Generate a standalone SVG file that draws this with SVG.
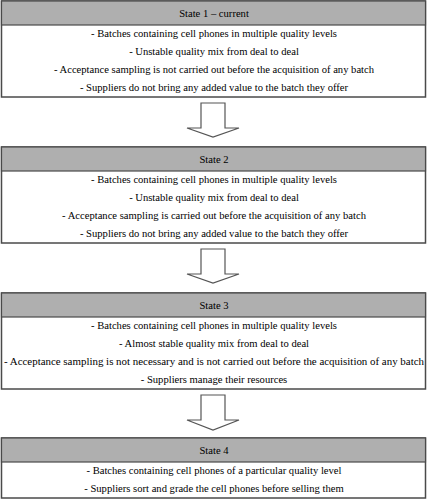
<svg xmlns="http://www.w3.org/2000/svg" width="428" height="500" viewBox="0 0 428 500">
<style>
.box{fill:#fff;stroke:#4a4a4a;stroke-width:1.5}
.hdr{fill:#afafaf;stroke:#4a4a4a;stroke-width:1.2}
.t{font-family:'Liberation Serif',serif;font-size:10.6px;fill:#000;text-anchor:middle}
.arr{fill:#fff;stroke:#555;stroke-width:1.2;stroke-linejoin:miter}
</style>
<rect width="428" height="500" fill="#fff"/>
<g id="state1">
<rect class="box" x="1.5" y="1" width="424" height="96"/>
<rect class="hdr" x="1.5" y="1" width="424" height="24"/>
<text class="t" x="214" y="17">State 1 – current</text>
<text class="t" x="214" y="37">- Batches containing cell phones in multiple quality levels</text>
<text class="t" x="214" y="55">- Unstable quality mix from deal to deal</text>
<text class="t" x="214" y="73">- Acceptance sampling is not carried out before the acquisition of any batch</text>
<text class="t" x="214" y="91">- Suppliers do not bring any added value to the batch they offer</text>
</g>
<g id="state2">
<rect class="box" x="1.5" y="147" width="424" height="96"/>
<rect class="hdr" x="1.5" y="147" width="424" height="24"/>
<text class="t" x="214" y="163">State 2</text>
<text class="t" x="214" y="183">- Batches containing cell phones in multiple quality levels</text>
<text class="t" x="214" y="201">- Unstable quality mix from deal to deal</text>
<text class="t" x="214" y="219">- Acceptance sampling is carried out before the acquisition of any batch</text>
<text class="t" x="214" y="237">- Suppliers do not bring any added value to the batch they offer</text>
</g>
<g id="state3">
<rect class="box" x="1.5" y="293" width="424" height="96"/>
<rect class="hdr" x="1.5" y="293" width="424" height="24"/>
<text class="t" x="214" y="309">State 3</text>
<text class="t" x="214" y="329">- Batches containing cell phones in multiple quality levels</text>
<text class="t" x="214" y="347">- Almost stable quality mix from deal to deal</text>
<text class="t" x="214" y="365" textLength="420" lengthAdjust="spacingAndGlyphs">- Acceptance sampling is not necessary and is not carried out before the acquisition of any batch</text>
<text class="t" x="214" y="383">- Suppliers manage their resources</text>
</g>
<g id="state4">
<rect class="box" x="1.5" y="438" width="424" height="60"/>
<rect class="hdr" x="1.5" y="438" width="424" height="24"/>
<text class="t" x="214" y="454">State 4</text>
<text class="t" x="214" y="474">- Batches containing cell phones of a particular quality level</text>
<text class="t" x="214" y="492">- Suppliers sort and grade the cell phones before selling them</text>
</g>
<g id="connectors">
<path class="arr" d="M201,103 V128 H187 L213,137 L239,128 H225 V103 Z"/>
<path class="arr" d="M201,249 V274 H187 L213,283 L239,274 H225 V249 Z"/>
<path class="arr" d="M201,395 V420 H187 L213,430 L239,420 H225 V395 Z"/>
</g>
</svg>
